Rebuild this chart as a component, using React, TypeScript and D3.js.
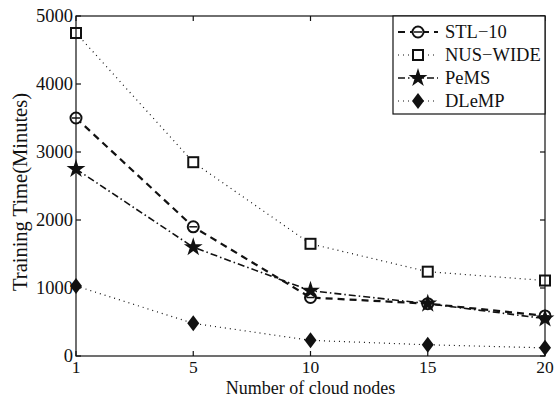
import * as React from 'react';
import * as d3 from 'd3';

const nodes = ['1', '5', '10', '15', '20'];
const yTicks = [0, 1000, 2000, 3000, 4000, 5000];
const stl10 = [3500, 1900, 860, 770, 590];
const nusWide = [4750, 2850, 1650, 1240, 1110];
const pems = [2750, 1600, 960, 770, 550];
const dlemp = [1030, 480, 230, 165, 120];

const seriesNames = ['STL\u221210', 'NUS\u2212WIDE', 'PeMS', 'DLeMP'];

const W = 559, H = 398;
const margin = { left: 76, right: 14, top: 16, bottom: 42 };
const FONT = '"Liberation Serif", "Times New Roman", serif';

function drawMarker(g: any, kind: string, x: number, y: number) {
    if (kind === 'circle') {
        g.append('circle').attr('cx', x).attr('cy', y).attr('r', 5.5)
            .attr('fill', 'white').attr('stroke', '#111').attr('stroke-width', 2);
        g.append('line').attr('x1', x - 4).attr('x2', x + 4).attr('y1', y).attr('y2', y)
            .attr('stroke', '#111').attr('stroke-width', 1.5);
    } else if (kind === 'square') {
        g.append('rect').attr('x', x - 5).attr('y', y - 5).attr('width', 10).attr('height', 10)
            .attr('fill', 'white').attr('stroke', '#111').attr('stroke-width', 2);
    } else if (kind === 'star') {
        g.append('path').attr('transform', 'translate(' + x + ',' + y + ')')
            .attr('d', d3.symbol(d3.symbolStar, 110)()).attr('fill', '#111');
    } else {
        g.append('path').attr('d', 'M' + x + ',' + (y - 8) + 'L' + (x + 6) + ',' + y + 'L' + x + ',' + (y + 8) + 'L' + (x - 6) + ',' + y + 'Z')
            .attr('fill', '#111');
    }
}

const App = () => {
    const ref = React.useRef<SVGSVGElement>(null);

    React.useEffect(() => {
        const svg = d3.select(ref.current);
        svg.selectAll('*').remove();

        const x = d3.scalePoint().domain(nodes).range([margin.left, W - margin.right]);
        const y = d3.scaleLinear().domain([0, 5000]).range([H - margin.bottom, margin.top]);
        const x0 = margin.left, x1 = W - margin.right, y0 = H - margin.bottom, y1 = margin.top;

        svg.append('rect').attr('width', W).attr('height', H).attr('fill', 'white');

        const series = [
            { data: stl10, dash: '7,5', width: 2.2, marker: 'circle' },
            { data: nusWide, dash: '1,4', width: 1.2, marker: 'square' },
            { data: pems, dash: '7,3,1.5,3', width: 1.6, marker: 'star' },
            { data: dlemp, dash: '1,4', width: 1.2, marker: 'diamond' },
        ];

        const line = d3.line<number>().x((d, i) => x(nodes[i]) as number).y(d => y(d));
        series.forEach(s => {
            svg.append('path').datum(s.data).attr('d', line).attr('fill', 'none')
                .attr('stroke', '#111').attr('stroke-width', s.width).attr('stroke-dasharray', s.dash);
        });
        series.forEach(s => {
            const g = svg.append('g');
            s.data.forEach((d, i) => drawMarker(g, s.marker, x(nodes[i]) as number, y(d)));
        });

        // axes box with inward ticks
        const axis = svg.append('g').attr('stroke', '#111').attr('stroke-width', 1.2);
        axis.append('rect').attr('x', x0).attr('y', y1).attr('width', x1 - x0).attr('height', y0 - y1).attr('fill', 'none');
        nodes.forEach(n => {
            const px = x(n) as number;
            axis.append('line').attr('x1', px).attr('x2', px).attr('y1', y0).attr('y2', y0 - 5);
            axis.append('line').attr('x1', px).attr('x2', px).attr('y1', y1).attr('y2', y1 + 5);
        });
        yTicks.forEach(t => {
            axis.append('line').attr('x1', x0).attr('x2', x0 + 5).attr('y1', y(t)).attr('y2', y(t));
            axis.append('line').attr('x1', x1).attr('x2', x1 - 5).attr('y1', y(t)).attr('y2', y(t));
        });

        const txt = svg.append('g').attr('font-family', FONT).attr('font-size', 18.5).attr('fill', '#111');
        nodes.forEach(n => {
            txt.append('text').attr('x', x(n) as number).attr('y', y0 + 17).attr('text-anchor', 'middle')
                .attr('font-size', 17.5).text(n);
        });
        yTicks.forEach(t => {
            txt.append('text').attr('x', x0 - 3).attr('y', y(t) + 6).attr('text-anchor', 'end').text(t);
        });
        txt.append('text').attr('x', (x0 + x1) / 2).attr('y', H - 4).attr('text-anchor', 'middle')
            .attr('font-size', 18).text('Number of cloud nodes');
        txt.append('text').attr('transform', 'translate(27,' + ((y0 + y1) / 2 + 6) + ') rotate(-90)')
            .attr('text-anchor', 'middle').attr('font-size', 20.5).text('Training Time(Minutes)');

        // legend
        const lx = 393, ly = y1, lw = x1 - lx, lh = 98;
        const leg = svg.append('g');
        leg.append('rect').attr('x', lx).attr('y', ly).attr('width', lw).attr('height', lh)
            .attr('fill', 'white').attr('stroke', '#111').attr('stroke-width', 1.2);
        series.forEach((s, i) => {
            const cy = ly + 16 + i * 23;
            leg.append('line').attr('x1', lx + 5).attr('x2', lx + 45).attr('y1', cy).attr('y2', cy)
                .attr('stroke', '#111').attr('stroke-width', s.width).attr('stroke-dasharray', s.dash);
            drawMarker(leg, s.marker, lx + 25, cy);
            leg.append('text').attr('x', lx + 52).attr('y', cy + 6).attr('font-family', FONT)
                .attr('font-size', 18.5).attr('fill', '#111').text(seriesNames[i]);
        });
    }, []);

    return (
        <svg ref={ref} width={W} height={H} style={{ position: 'absolute', left: 0, top: 0 }}></svg>
    );
};

export default App;
